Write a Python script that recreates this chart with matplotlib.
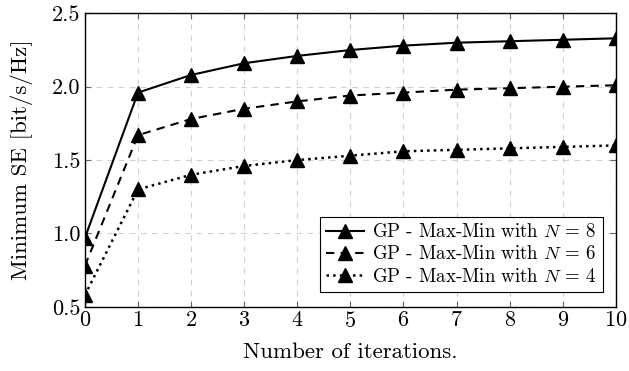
import numpy as np
import matplotlib.pyplot as plt

plt.rcParams['font.family'] = 'serif'
plt.rcParams['font.serif'] = ['cmr10']
plt.rcParams['mathtext.fontset'] = 'cm'
plt.rcParams['axes.formatter.use_mathtext'] = True

# data
iterations = np.arange(0, 11)
se_n8 = [0.97, 1.96, 2.08, 2.16, 2.21, 2.25, 2.28, 2.30, 2.31, 2.32, 2.33]
se_n6 = [0.78, 1.67, 1.78, 1.85, 1.90, 1.94, 1.96, 1.98, 1.99, 2.00, 2.01]
se_n4 = [0.58, 1.30, 1.40, 1.46, 1.50, 1.53, 1.56, 1.57, 1.58, 1.59, 1.60]
labels = [r'GP - Max-Min with $N\,=\,8$',
          r'GP - Max-Min with $N\,=\,6$',
          r'GP - Max-Min with $N\,=\,4$']
x_ticks = list(range(0, 11))
y_ticks = [0.5, 1.0, 1.5, 2.0, 2.5]

fig = plt.figure(figsize=(6.29, 3.71), dpi=100)
ax = fig.add_axes([0.135, 0.173, 0.844, 0.791])

ax.plot(iterations, se_n8, '-', color='black', marker='^', markersize=10, lw=1.5, label=labels[0])
ax.plot(iterations, se_n6, '--', color='black', marker='^', markersize=10, lw=1.5,
        dashes=(4, 3), label=labels[1])
ax.plot(iterations, se_n4, ':', color='black', marker='^', markersize=10, lw=1.8, label=labels[2])

ax.set_xlim(0, 10)
ax.set_ylim(0.5, 2.5)
ax.set_xticks(x_ticks)
ax.set_yticks(y_ticks)
ax.set_yticklabels([f'{v:.1f}' for v in y_ticks])
ax.tick_params(direction='in', top=True, right=True, labelsize=16, length=4, color='#666666',
               pad=3)
ax.grid(True, linestyle=(0, (5, 5)), color='#d0d0d0', lw=0.8)
for s in ax.spines.values():
    s.set_linewidth(1.0)

ax.set_xlabel('Number of iterations.', fontsize=16.5, labelpad=8)
ax.set_ylabel('Minimum SE [bit/s/Hz]', fontsize=16.5, labelpad=14)

leg = ax.legend(loc='lower right', bbox_to_anchor=(0.9755, 0.05), fontsize=13.6,
                fancybox=False, edgecolor='black', framealpha=1, handlelength=2.0,
                borderpad=0.35, labelspacing=0.22, handletextpad=0.4, borderaxespad=0)
leg.get_frame().set_linewidth(0.8)

fig.savefig('out.png', dpi=100)
